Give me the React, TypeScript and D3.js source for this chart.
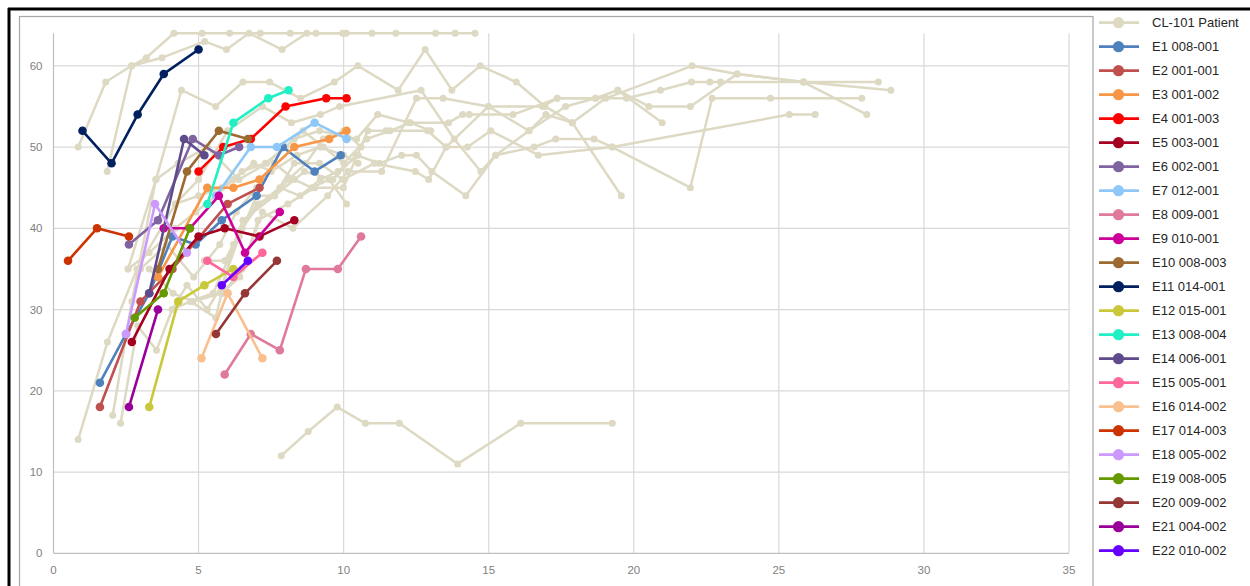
import React from 'react';
import * as d3 from 'd3';

type P = [number, number];

const xTicks = [0, 5, 10, 15, 20, 25, 30, 35];
const yTicks = [0, 10, 20, 30, 40, 50, 60];

const patientLabel = 'CL-101 Patient';
const patientColor = '#DDD9C3';

const patients: P[][] = [
  [[1.85,47],[2.7,60],[3.2,61],[4.15,64],[5.12,64],[6.07,64],[7.13,64],[8.16,64],[9.05,64],[10.09,64],[10.98,64],[11.8,64],[13.17,64],[13.84,64],[14.53,64]],
  [[0.85,50],[1.8,58],[2.69,60],[3.74,61],[5.21,63],[5.96,62],[6.74,64],[7.88,62],[8.73,64],[9.97,64]],
  [[2.57,35],[3.53,46],[4.41,57],[5.59,55],[6.53,58],[7.45,58],[8.51,56],[9.68,58],[10.49,60],[11.88,57],[12.81,62],[13.73,57],[14.71,60],[15.95,58],[16.94,55],[17.88,53],[19.57,44]],
  [[0.85,14],[1.86,26],[2.88,35],[4.2,43],[5.0,46],[6.0,52],[7.2,55],[8.2,53],[9.2,54],[9.86,55],[12.67,57],[13.81,51],[14.73,47],[15.24,49],[16.56,50],[17.31,51],[18.63,51],[19.26,50],[21.95,45],[22.7,56],[24.71,56],[27.86,56]],
  [[2.04,17],[2.7,31],[3.53,46],[4.3,48],[5.3,50],[6.39,46],[7.35,48],[8.3,51],[9.17,52],[10.45,51],[11.17,54],[12.26,53],[13.62,53],[14.1,54],[14.33,54],[15.84,54],[17.36,56],[19.75,56],[20.92,57],[21.99,58],[22.62,58],[22.99,58],[25.85,58],[28.43,58]],
  [[2.31,16],[2.9,28],[3.55,25],[4.09,30],[4.72,31],[5.5,32],[6.0,36],[6.53,41],[7.62,44],[8.65,47],[9.63,46],[10.43,49],[11.23,48],[12.0,49],[12.51,49],[13.04,47],[14.21,44],[15.24,49],[16.39,52],[17.65,55],[18.68,56],[19.45,57],[20.52,55],[21.95,55],[23.56,59],[25.85,58],[28.86,57]],
  [[7.85,12],[8.78,15],[9.78,18],[10.75,16],[11.92,16],[13.93,11],[16.1,16],[19.26,16]],
  [[3.3,35],[4.12,32],[4.81,31],[5.79,32],[6.42,34],[7.05,41],[8.08,43],[9.0,45],[9.99,45],[10.83,52],[11.46,52],[12.89,52],[13.53,50],[14.27,50],[15.07,52],[16.71,49],[19.26,50],[25.36,54],[26.25,54]],
  [[4.72,31],[5.59,29],[6.2,38],[7.0,43],[7.62,44],[8.3,48],[9.17,48],[9.97,46],[11.06,48],[12.47,47],[12.93,46],[13.53,50],[14.99,55],[16.39,52],[16.97,54],[17.88,53],[19.03,56],[22.01,60],[23.56,59],[25.85,58],[28.03,54]],
  [[5.84,32],[6.5,35],[7.2,42],[8.25,40],[9.45,44],[10.14,47],[11.31,47],[12.51,56],[13.43,56],[14.99,55],[16.86,55],[17.36,56],[18.68,56],[19.45,57],[20.98,53]],
  [[2.57,35],[3.3,37],[4.2,40],[4.9,42],[5.6,44],[6.2,46],[6.9,48],[7.5,47],[8.4,49],[9.2,50],[10.0,49],[10.5,48]],
  [[3.0,35],[3.9,38],[4.83,34],[5.73,38],[6.3,42],[7.0,45],[7.6,48],[8.3,46],[8.9,45],[9.5,46],[10.1,43]],
  [[4.2,43],[5.0,44],[5.8,45],[6.5,47],[7.3,48],[8.0,50],[8.6,52],[9.3,50],[10.0,48],[10.8,51],[11.6,52],[12.3,53],[13.0,52]],
  [[5.2,36],[5.9,36],[6.5,40],[7.1,43],[7.8,45],[8.5,44],[9.2,46],[9.8,47],[10.5,49]],
  [[4.09,30],[4.6,33],[5.3,30],[5.8,33],[6.4,39],[7.0,44],[7.62,44],[8.1,46],[8.7,48],[9.3,51],[10.0,52],[10.6,50]],
];

const seriesNames = [
  'E1 008-001','E2 001-001','E3 001-002','E4 001-003','E5 003-001','E6 002-001',
  'E7 012-001','E8 009-001','E9 010-001','E10 008-003','E11 014-001','E12 015-001',
  'E13 008-004','E14 006-001','E15 005-001','E16 014-002','E17 014-003','E18 005-002',
  'E19 008-005','E20 009-002','E21 004-002','E22 010-002',
];

const seriesColors = [
  '#4F81BD','#C0504D','#F79646','#FF0000','#A50021','#8064A2',
  '#8DC8F8','#E07A9A','#CC0099','#9C6A30','#002060','#C8C83A',
  '#20F0C4','#5F4B8B','#FF6699','#FABF8F','#CC3300','#CC99FF',
  '#669900','#953735','#990099','#6600FF',
];

const e1: P[] = [[1.6,21],[2.5,27],[3.3,32],[4.1,39],[4.9,38],[5.8,41],[7.0,44],[7.9,50],[9.0,47],[9.9,49]];
const e2: P[] = [[1.6,18],[3.0,31],[4.1,35],[6.0,43],[7.1,45]];
const e3: P[] = [[3.6,34],[5.3,45],[6.2,45],[7.1,46],[8.3,50],[9.5,51],[10.1,52]];
const e4: P[] = [[5.0,47],[5.85,50],[6.8,51],[8.0,55],[9.4,56],[10.1,56]];
const e5: P[] = [[2.7,26],[4.0,35],[5.0,39],[5.9,40],[7.1,39],[8.3,41]];
const e6: P[] = [[2.6,38],[3.6,41],[4.8,51],[5.7,49],[6.4,50]];
const e7: P[] = [[5.6,44],[6.8,50],[7.7,50],[9.0,53],[10.1,51]];
const e8: P[] = [[5.9,22],[6.8,27],[7.8,25],[8.7,35],[9.8,35],[10.6,39]];
const e9: P[] = [[3.8,40],[4.7,40],[5.7,44],[6.6,37],[7.8,42]];
const e10: P[] = [[3.6,35],[4.6,47],[5.7,52],[6.7,51]];
const e11: P[] = [[1.0,52],[2.0,48],[2.9,54],[3.8,59],[5.0,62]];
const e12: P[] = [[3.3,18],[4.3,31],[5.2,33],[6.2,35]];
const e13: P[] = [[5.3,43],[6.2,53],[7.4,56],[8.1,57]];
const e14: P[] = [[3.3,32],[4.5,51],[5.2,49]];
const e15: P[] = [[5.3,36],[6.2,34],[7.2,37]];
const e16: P[] = [[5.1,24],[6.0,32],[7.2,24]];
const e17: P[] = [[0.5,36],[1.5,40],[2.6,39]];
const e18: P[] = [[2.5,27],[3.5,43],[4.6,37]];
const e19: P[] = [[2.8,29],[3.8,32],[4.7,40]];
const e20: P[] = [[5.6,27],[6.6,32],[7.7,36]];
const e21: P[] = [[2.6,18],[3.6,30]];
const e22: P[] = [[5.8,33],[6.7,36]];

const seriesValues: P[][] = [e1,e2,e3,e4,e5,e6,e7,e8,e9,e10,e11,e12,e13,e14,e15,e16,e17,e18,e19,e20,e21,e22];

const W = 1250;
const H = 586;
const font = '"Liberation Sans", Arial, sans-serif';

export default function App() {
  const x = d3.scaleLinear().domain([0, 35]).range([53.5, 1069]);
  const y = d3.scaleLinear().domain([0, 64]).range([553.3, 33.3]);
  const line = d3.line<P>().x(d => x(d[0])).y(d => y(d[1]));

  const legendX = 1099;
  const legendY0 = 22.7;
  const legendStep = 24;
  const legendItems = [{ name: patientLabel, color: patientColor }].concat(
    seriesNames.map((n, i) => ({ name: n, color: seriesColors[i] }))
  );

  return (
    <svg width={W} height={H} style={{ position: 'absolute', left: 0, top: 0, background: '#fff' }}>
      <rect x={0} y={0} width={W} height={H} fill="#fff" />
      <rect x={19.5} y={16.5} width={1073.5} height={575} fill="#fff" stroke="#A6A6A6" strokeWidth={1.2} />
      <line x1={8} y1={9} x2={W} y2={9} stroke="#000" strokeWidth={3} />
      <line x1={9} y1={8} x2={9} y2={H} stroke="#000" strokeWidth={3} />

      {yTicks.filter(t => t > 0).map(t => (
        <line key={'gy' + t} x1={x(0)} x2={x(35)} y1={y(t)} y2={y(t)} stroke="#D9D9D9" strokeWidth={1.2} />
      ))}
      {xTicks.filter(t => t > 0).map(t => (
        <line key={'gx' + t} x1={x(t)} x2={x(t)} y1={y(64)} y2={y(0)} stroke="#D9D9D9" strokeWidth={1.2} />
      ))}
      <line x1={x(0)} x2={x(35)} y1={y(0)} y2={y(0)} stroke="#BFBFBF" strokeWidth={1.2} />
      <line x1={x(0)} x2={x(0)} y1={y(64)} y2={y(0)} stroke="#BFBFBF" strokeWidth={1.2} />

      {yTicks.map(t => (
        <text key={'ty' + t} x={42.5} y={y(t)} dy="0.35em" textAnchor="end" fontFamily={font} fontSize={11.5} fill="#7F7F7F">{t}</text>
      ))}
      {xTicks.map(t => (
        <text key={'tx' + t} x={x(t)} y={569.5} dy="0.35em" textAnchor="middle" fontFamily={font} fontSize={11.5} fill="#7F7F7F">{t}</text>
      ))}

      {patients.map((s, i) => (
        <g key={'p' + i}>
          <path d={line(s) || ''} fill="none" stroke={patientColor} strokeWidth={2.5} strokeLinejoin="round" />
          {s.map((d, j) => (
            <circle key={j} cx={x(d[0])} cy={y(d[1])} r={3.5} fill={patientColor} />
          ))}
        </g>
      ))}

      {seriesValues.map((s, i) => (
        <g key={'e' + i}>
          <path d={line(s) || ''} fill="none" stroke={seriesColors[i]} strokeWidth={2.6} strokeLinejoin="round" />
          {s.map((d, j) => (
            <circle key={j} cx={x(d[0])} cy={y(d[1])} r={4.3} fill={seriesColors[i]} />
          ))}
        </g>
      ))}

      {legendItems.map((it, i) => {
        const ly = legendY0 + i * legendStep;
        return (
          <g key={'l' + i}>
            <line x1={legendX} x2={legendX + 40} y1={ly} y2={ly} stroke={it.color} strokeWidth={2.8} />
            <circle cx={legendX + 19.5} cy={ly} r={5.6} fill={it.color} />
            <text x={1152} y={ly} dy="0.35em" fontFamily={font} fontSize={13} fill="#262626">{it.name}</text>
          </g>
        );
      })}
    </svg>
  );
}
